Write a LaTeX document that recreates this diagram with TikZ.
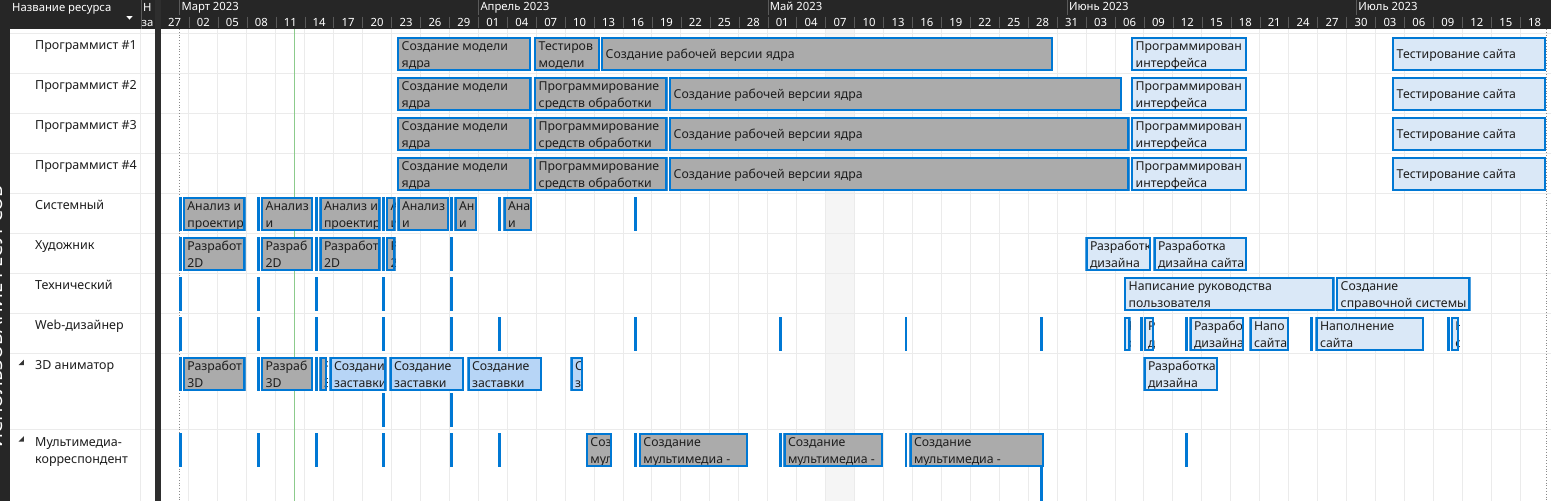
\documentclass[tikz,border=0pt]{standalone}
\usepackage{fontspec}
\setmainfont{Noto Sans}
\usepackage{xcolor}
\definecolor{hdrdark}{HTML}{262626}
\definecolor{sepdark}{HTML}{2E2E2E}
\definecolor{hdrline}{HTML}{5A5A5A}
\definecolor{gridgray}{HTML}{EBEBEB}
\definecolor{shadecol}{HTML}{F5F5F5}
\definecolor{dotgray}{HTML}{8A8A8A}
\definecolor{todaygreen}{HTML}{8CCB8C}
\definecolor{barblue}{HTML}{0078D4}
\definecolor{bargray}{HTML}{ABABAB}
\definecolor{barlight}{HTML}{DAE8F7}
\definecolor{barmid}{HTML}{B7D5F6}
\definecolor{textdark}{HTML}{1E1E1E}

\begin{document}
\begin{tikzpicture}[x=1pt,y=-1pt,
    grid line/.style={draw=gridgray,line width=1pt},
    hdrtext/.style={text=white,inner sep=0pt,anchor=base west,font=\fontsize{11.3}{12}\selectfont},
    daytext/.style={text=white,inner sep=0pt,anchor=base,font=\fontsize{11.3}{12}\selectfont},
    restext/.style={text=textdark,inner sep=0pt,anchor=base west,font=\fontsize{12.5}{13}\selectfont},
    bartext/.style={text=textdark,inner sep=0pt,anchor=base west,font=\fontsize{12.3}{13}\selectfont},
    barframe/.style={draw=barblue,line width=2.4pt}]
    \useasboundingbox (0,0) rectangle (1551,501);

    % Background
    \fill[white] (0,0) rectangle (1551,501);
    \fill[shadecol] (825.6,29) rectangle (854.5,501);

    % Grid
    \foreach \k in {1,...,47}
        \draw[grid line] ({160+28.94*\k},29) -- ({160+28.94*\k},501);
    \foreach \yy in {33.3,73.3,113.3,153.3,193.3,233.3,273.3,313.3,353.3,429.3}
        \draw[grid line] (9.5,\yy) -- (1551,\yy);
    \draw[grid line] (140.7,29) -- (140.7,501);

    % Project start, today and finish lines
    \draw[dotted,draw=dotgray,line width=0.8pt] (179.3,29) -- (179.3,501);
    \draw[dotted,draw=dotgray,line width=0.8pt] (1546.6,29) -- (1546.6,501);
    \draw[todaygreen,line width=1pt] (294.3,29) -- (294.3,501);

    % Zero-length assignments
    \foreach \yt/\xs in {197/{179,257,315,382,450,498.3,634.3},
                         237/{179,257,315,382,450},
                         277/{179,257,315,382,450},
                         317/{179,257,315,382,450,498.3,634.3,779.3,904.5,1040,1140,1185,1310,1446.7},
                         357/{179,257,315},
                         392.5/{382,450},
                         433/{179,257,315,382,450,498.3,634.3,779.3,904.5,1185},
                         467/{1040}}
        \foreach \xm in \xs
            \fill[barblue] (\xm,\yt) rectangle +(2.8,34);

    % Two-line task bars
    \foreach \xa/\xb/\yt/\fc/\la/\lb [count=\n] in {
        397/531/37/bargray/Создание модели/ядра,
        534/600/37/bargray/Тестиров/модели,
        1131/1247/37/barlight/Программирован/интерфейса,
        397/531.5/77/bargray/Создание модели/ядра,
        534/667.5/77/bargray/Программирование/средств обработки,
        1131/1247/77/barlight/Программирован/интерфейса,
        397/531.5/117/bargray/Создание модели/ядра,
        534/667.5/117/bargray/Программирование/средств обработки,
        1131/1247/117/barlight/Программирован/интерфейса,
        397/531.5/157/bargray/Создание модели/ядра,
        534/667.5/157/bargray/Программирование/средств обработки,
        1131/1247/157/barlight/Программирован/интерфейса,
        182.7/245.7/197/bargray/Анализ и/проектир,
        261/313/197/bargray/Анализ/и,
        319.3/380.7/197/bargray/Анализ и/проектир,
        386/395.5/197/bargray/А/и,
        397.3/449/197/bargray/Анализ/и,
        454.3/477.3/197/bargray/Ан/и,
        503.3/532.3/197/bargray/Ана/и,
        182.7/245.7/237/bargray/Разработ/2D,
        261/313/237/bargray/Разраб/2D,
        319.3/380.7/237/bargray/Разработ/2D,
        386/395.7/237/bargray/Р/2,
        1085.3/1151/237/barlight/Разработк/дизайна,
        1153.3/1247.3/237/barlight/Разработка/дизайна сайта,
        1124/1334.7/277/barlight/Написание руководства/пользователя,
        1336/1470.7/277/barlight/Создание/справочной системы,
        1124/1130.7/317/barlight/Р/с,
        1143.5/1154.3/317/barlight/Р/д,
        1189.3/1244.3/317/barlight/Разрабо/дизайна,
        1249.3/1289.3/317/barlight/Напо/сайта,
        1315.3/1424.3/317/barlight/Наполнение/сайта,
        1450.7/1459/317/barlight/Н/с,
        182.7/245.7/357/bargray/Разработ/3D,
        261/313/357/bargray/Разраб/3D,
        319.3/327.3/357/bargray/Р/3,
        329.3/386.7/357/barmid/Создани/заставки,
        389.3/464.3/357/barmid/Создание/заставки,
        467.3/542.3/357/barmid/Создание/заставки,
        570.3/583.3/357/barmid/С/з,
        1143.3/1218.3/357/barlight/Разработка/дизайна,
        585.7/612.3/433/bargray/Соз/мул,
        638.7/748.3/433/bargray/Создание/мультимедиа -,
        783.3/883.3/433/bargray/Создание/мультимедиа -,
        909.3/1044.3/433/bargray/Создание/мультимедиа -}{
        \begin{scope}
            \clip (\xa,\yt) rectangle (\xb,\yt+34);
            \fill[\fc] (\xa,\yt) rectangle (\xb,\yt+34);
            \node[bartext] (task\n a) at (\xa+4.5,\yt+13.7) {\la};
            \node[bartext] (task\n b) at (\xa+4.5,\yt+30.7) {\lb};
            \draw[barframe] (\xa+1.2,\yt+1.2) rectangle (\xb-1.2,\yt+32.8);
        \end{scope}
    }

    % One-line task bars
    \foreach \xa/\xb/\yt/\fc/\la [count=\n] in {
        601/1053/37/bargray/Создание рабочей версии ядра,
        1392/1546/37/barlight/Тестирование сайта,
        669/1122/77/bargray/Создание рабочей версии ядра,
        1392/1546/77/barlight/Тестирование сайта,
        669/1129.5/117/bargray/Создание рабочей версии ядра,
        1392/1546/117/barlight/Тестирование сайта,
        669/1129.5/157/bargray/Создание рабочей версии ядра,
        1392/1546/157/barlight/Тестирование сайта}{
        \begin{scope}
            \clip (\xa,\yt) rectangle (\xb,\yt+34);
            \fill[\fc] (\xa,\yt) rectangle (\xb,\yt+34);
            \node[bartext] (long\n) at (\xa+4.5,\yt+21.3) {\la};
            \draw[barframe] (\xa+1.2,\yt+1.2) rectangle (\xb-1.2,\yt+32.8);
        \end{scope}
    }

    % Resource names
    \foreach \lab [count=\r from 0] in {Программист \#1,Программист \#2,Программист \#3,
        Программист \#4,Системный,Художник,Технический,Web-дизайнер,3D аниматор}
        \node[restext] (res\r) at (35,{49.8+40*\r}) {\lab};
    \node[restext] (res9) at (35,446) {Мультимедиа-};
    \node[restext] (res9b) at (35,463) {корреспондент};
    \fill[textdark!90] (18.5,365) -- (23.8,365) -- (23.8,359.7) -- cycle;
    \fill[textdark!90] (18.5,441.5) -- (23.8,441.5) -- (23.8,436.2) -- cycle;

    % Header and side bars
    \fill[hdrdark] (0,0) rectangle (1551,29);
    \fill[hdrdark] (0,0) rectangle (9.5,501);
    \fill[sepdark] (155,0) rectangle (160.5,501);
    \begin{scope}
        \clip (0,29) rectangle (9.5,501);
        \node[rotate=90,anchor=base,text=white,inner sep=0pt,
            font=\fontsize{18.5}{19}\selectfont] (viewname) at (2.2,316.5) {ИСПОЛЬЗОВАНИЕ РЕСУРСОВ};
    \end{scope}
    \draw[hdrline] (140.7,0) -- (140.7,29);
    \node[hdrtext] (colname) at (12,11) {Название ресурса};
    \fill[white] (126.3,16) -- (132.7,16) -- (129.5,19.6) -- cycle;
    \node[hdrtext] (colwork) at (143,11) {Н};
    \node[hdrtext] (colwork2) at (141.3,26.5) {за};

    % Timescale
    \foreach \mx/\mt in {179.3/Март 2023,478.3/Апрель 2023,767.7/Май 2023,
                         1066.8/Июнь 2023,1356.2/Июль 2023}{
        \draw[hdrline] (\mx,0) -- (\mx,15);
        \node[hdrtext] (month\mx) at (\mx+2,10.5) {\mt};
    }
    \foreach \k in {1,...,47}
        \draw[hdrline] ({160+28.94*\k},16.5) -- ({160+28.94*\k},28);
    \foreach \d [count=\i from 0] in {27,02,05,08,11,14,17,20,23,26,29,01,04,07,10,13,16,19,22,25,28,
        01,04,07,10,13,16,19,22,25,28,31,03,06,09,12,15,18,21,24,27,30,03,06,09,12,15,18}
        \node[daytext] (day\i) at ({174.5+28.94*\i},26) {\d};
\end{tikzpicture}
\end{document}
